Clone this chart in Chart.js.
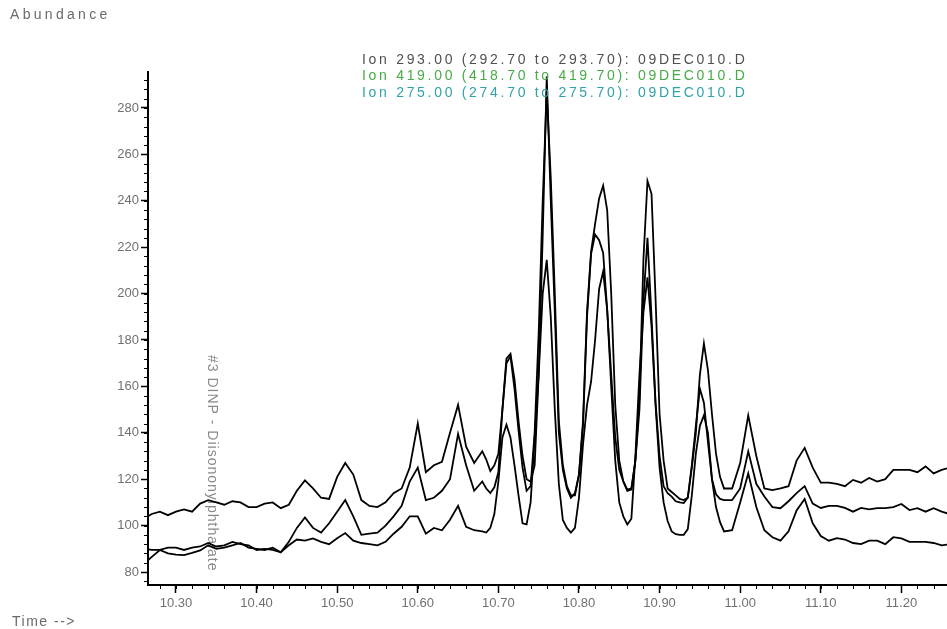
<!DOCTYPE html>
<html>
<head>
<meta charset="utf-8">
<script src="https://cdn.jsdelivr.net/npm/chart.js@4.4.1/dist/chart.umd.min.js"></script>
<style>
  html, body { margin: 0; padding: 0; background: #fff; }
  #wrap { width: 947px; height: 629px; }
</style>
</head>
<body>
<div id="wrap"><canvas id="tic" width="947" height="629"></canvas></div>
<script>
// retention time (min)
var times = [10.26,10.27,10.28,10.29,10.30,10.31,10.32,10.33,10.34,10.35,10.36,10.37,10.38,10.39,10.40,10.41,10.42,10.43,10.44,10.45,
  10.46,10.47,10.48,10.49,10.50,10.51,10.52,10.53,10.54,10.55,10.56,10.57,10.58,10.59,10.60,10.61,10.62,10.63,10.64,10.65,10.66,10.67,10.68,
  10.685,10.69,10.695,10.70,10.705,10.71,10.715,10.72,10.725,10.73,10.735,10.74,10.745,10.75,10.755,10.76,10.765,10.77,10.775,10.78,10.785,
  10.79,10.795,10.80,10.805,10.81,10.815,10.82,10.825,10.83,10.835,10.84,10.845,10.85,10.855,10.86,10.865,10.87,10.875,10.88,10.885,10.89,
  10.895,10.90,10.905,10.91,10.915,10.92,10.925,10.93,10.935,10.94,10.945,10.95,10.955,10.96,10.965,10.97,10.975,10.98,
  10.99,11.00,11.01,11.02,11.03,11.04,11.05,11.06,11.07,11.08,11.09,11.10,11.11,11.12,11.13,11.14,11.15,11.16,11.17,11.18,11.19,11.20,
  11.21,11.22,11.23,11.24,11.25,11.26];

// abundance per ion (all three traces drawn in black)
var ion293 = [103,105,106,104.5,106,107,106,109.5,111,110,109,110.5,110,108,108,109.5,110,107.5,109,115,
  119.5,116,112,111.5,121,127,122,111,108.5,108,110,114,116,125,144,123,126,127.5,140,152,134,127,132,
  128.5,123.5,126,131,150,172,174,163,145,130,120,119,126,165,225,293.5,240,192,140,124,116,
  112,114,122,145,192,218,230,241,246.5,236,200,152,128,119,115,115.5,128,155,215,248.5,243,
  198,148,128,116,114.5,113,111.5,111,112,125,140,165,178.5,167,148,131,121,116,
  116,127,147.5,130,116,115.3,116,117,128,133.5,125,118.5,118.5,118,117,119.7,118.5,120.5,119,120,124,124,
  124,123,125.5,122.5,124,125];

var ion419 = [83.5,86.5,89.5,88,87.5,87.3,88.2,89.3,91.5,90,90.5,91.5,92.5,90.5,90,89.5,90.5,88.5,93,99,
  103.5,99,97,101,106,111,104,96,96.5,97,100,104,108.5,119,125,111,112,115,120,139.5,126,115,119,
  116,114,116.5,123,150,170,173,159,141,125,115,117,140,183,240,287,250,200,145,126,117,
  113,113,122,143,190,217,225.5,223,217.5,193,165,138,124,119,115.5,116,128,150,197,224,190,
  153,130,117,114,112.5,110.5,110,109.7,112,126,143,159,153,136,120,113.5,111.5,111,
  111,116,132,118,112.5,108,107.5,110.5,114,117,109.5,107.6,108.5,108.5,107.6,106,107.6,107,107.5,107.5,108,109.3,
  106.7,107.5,106,107.5,106,105];

var ion275 = [90,89.5,89.5,90.5,90.5,89.5,90.5,91,92.5,91,91.5,93,92,91.5,89.5,90,89.5,88.5,91.5,94,
  93.5,94.5,93,92,94.5,96.8,93.5,92.5,92,91.5,93,96.5,99.5,104,104,96.5,99,98,102.5,108.5,99.5,98,97.5,
  97,99,105,119,138,143.5,138,126,113,101,100.5,110,138,165,200,214.5,190,150,118,102.4,99,
  97,99,112,135,152,162,180,202,209.5,193,160,128,110,104,100.5,103,130,165,192,207,186,
  152,125,110,102,97.5,96.3,96,96,98.5,113,131,143,147.5,140,120,108,101.5,97.5,
  98,110,122.5,108,98,95,93.5,97.5,106.5,111.5,101,95.5,93.5,94.6,94,92.5,92,93.5,93.5,92,95,94.5,
  93,93,93,92.5,91.5,92];

var seriesLabels = [
  'Ion 293.00 (292.70 to 293.70): 09DEC010.D',
  'Ion 419.00 (418.70 to 419.70): 09DEC010.D',
  'Ion 275.00 (274.70 to 275.70): 09DEC010.D'
];
var labelColors = ['#505050', '#48aa48', '#30a2aa'];

var majorTimes = [10.30,10.40,10.50,10.60,10.70,10.80,10.90,11.00,11.10,11.20];
var abundanceTicks = [80,100,120,140,160,180,200,220,240,260,280];
var peakName = '#3 DINP - Diisononylphthalate';

var X_MIN = 10.2653, X_MAX = 11.2566;
var Y_MIN = 74.4, Y_MAX = 295.5;

function toPoints(values) {
  return times.map(function(t, i) { return {x: t, y: values[i]}; });
}

// minor ticks and the ChemStation style captions
var chemLabels = {
  id: 'chemLabels',
  beforeDatasetsDraw: function(chart) {
    var ctx = chart.ctx;
    ctx.save();
    ctx.font = '14px "Liberation Sans", Arial, sans-serif';
    ctx.letterSpacing = '1px';
    ctx.fillStyle = '#8a8a8a';
    ctx.translate(212, 355);
    ctx.rotate(Math.PI / 2);
    ctx.textAlign = 'left';
    ctx.textBaseline = 'middle';
    ctx.fillText(peakName, 0, 0);
    ctx.restore();
  },
  afterDraw: function(chart) {
    var ctx = chart.ctx;
    var xs = chart.scales.x, ys = chart.scales.y;
    var area = chart.chartArea;
    ctx.save();
    ctx.strokeStyle = '#000';
    ctx.lineWidth = 1;
    ctx.beginPath();
    for (var t = 10.28; t <= 11.261; t += 0.02) {
      var px = Math.round(xs.getPixelForValue(t)) + 0.5;
      if (px < area.left || px > area.right) continue;
      ctx.moveTo(px, area.bottom);
      ctx.lineTo(px, area.bottom + 4);
    }
    for (var v = 76; v <= 295; v += 4) {
      var py = Math.round(ys.getPixelForValue(v)) + 0.5;
      ctx.moveTo(area.left, py);
      ctx.lineTo(area.left - 4, py);
    }
    ctx.stroke();

    ctx.textBaseline = 'middle';
    ctx.textAlign = 'left';
    ctx.font = '14px "Liberation Sans", Arial, sans-serif';
    ctx.letterSpacing = '3.3px';
    ctx.fillStyle = '#6a6a6a';
    ctx.fillText('Abundance', 10, 15);
    ctx.letterSpacing = '1.5px';
    ctx.fillText('Time -->', 12, 622);

    ctx.letterSpacing = '2.7px';
    for (var i = 0; i < seriesLabels.length; i++) {
      ctx.fillStyle = labelColors[i];
      ctx.fillText(seriesLabels[i], 362, 60 + i * 16.5);
    }
    ctx.restore();
  }
};

var tickFont = { family: '"Liberation Sans", Arial, sans-serif', size: 13 };

var chart = new Chart(document.getElementById('tic'), {
  type: 'line',
  data: {
    datasets: [
      { label: seriesLabels[0], data: toPoints(ion293), borderColor: '#000', borderWidth: 1.8 },
      { label: seriesLabels[1], data: toPoints(ion419), borderColor: '#000', borderWidth: 1.8 },
      { label: seriesLabels[2], data: toPoints(ion275), borderColor: '#000', borderWidth: 1.8 }
    ]
  },
  options: {
    responsive: false,
    animation: false,
    devicePixelRatio: 1,
    layout: { padding: { top: 72, left: 0, right: 0, bottom: 0 } },
    elements: { point: { radius: 0 }, line: { tension: 0 } },
    scales: {
      x: {
        type: 'linear',
        min: X_MIN,
        max: X_MAX,
        afterBuildTicks: function(scale) {
          scale.ticks = majorTimes.map(function(v) { return {value: v}; });
        },
        afterFit: function(scale) { scale.height = 44; },
        ticks: {
          callback: function(v) { return v.toFixed(2); },
          color: '#707070',
          font: tickFont,
          padding: 3,
          maxRotation: 0,
          autoSkip: false
        },
        grid: { drawOnChartArea: false, drawTicks: true, tickLength: 8, tickColor: '#000', tickWidth: 1.5 },
        border: { display: true, color: '#000', width: 2 }
      },
      y: {
        min: Y_MIN,
        max: Y_MAX,
        afterBuildTicks: function(scale) {
          scale.ticks = abundanceTicks.map(function(v) { return {value: v}; });
        },
        afterFit: function(scale) { scale.width = 148; },
        ticks: { color: '#707070', font: tickFont, padding: 2 },
        grid: { drawOnChartArea: false, drawTicks: true, tickLength: 7, tickColor: '#000', tickWidth: 1.5 },
        border: { display: true, color: '#000', width: 2 }
      }
    },
    plugins: {
      legend: { display: false },
      tooltip: { enabled: false }
    }
  },
  plugins: [chemLabels]
});
</script>
</body>
</html>
